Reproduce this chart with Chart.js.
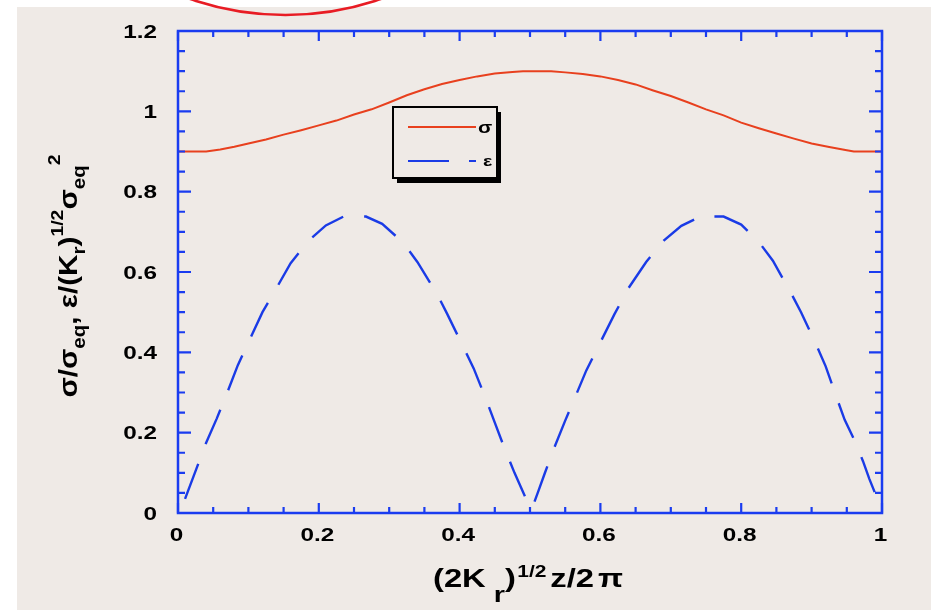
<!DOCTYPE html>
<html><head><meta charset="utf-8">
<script src="https://cdn.jsdelivr.net/npm/chart.js@4.4.1/dist/chart.umd.min.js"></script>
<style>html,body{margin:0;padding:0;background:#fff;}#wrap{width:933px;height:610px;position:relative;}</style>
</head><body><div id="wrap"><canvas id="c" width="933" height="610"></canvas></div>
<script>
// ---- data ----
const sigmaX = [0.000,0.040,0.060,0.080,0.100,0.125,0.150,0.175,0.200,0.225,0.250,0.275,0.300,0.325,0.350,0.375,0.400,0.425,0.450,0.475,0.490,0.530,0.550,0.575,0.600,0.625,0.650,0.675,0.700,0.725,0.750,0.775,0.800,0.825,0.850,0.875,0.900,0.925,0.950,0.960,1.000];
const sigmaY = [0.900,0.900,0.905,0.912,0.920,0.930,0.942,0.953,0.965,0.977,0.992,1.005,1.022,1.040,1.055,1.068,1.078,1.087,1.094,1.098,1.100,1.100,1.097,1.093,1.087,1.078,1.067,1.052,1.038,1.022,1.005,0.990,0.972,0.958,0.945,0.932,0.920,0.911,0.903,0.900,0.900];
const epsX = [0.010,0.025,0.040,0.055,0.070,0.085,0.100,0.120,0.135,0.160,0.185,0.210,0.235,0.267,0.290,0.320,0.340,0.368,0.382,0.404,0.420,0.436,0.450,0.464,0.478,0.494,0.503,0.512,0.521,0.535,0.550,0.565,0.580,0.600,0.620,0.640,0.665,0.690,0.715,0.742,0.775,0.800,0.825,0.845,0.870,0.885,0.905,0.920,0.935,0.947,0.962,0.973,0.982,0.990,1.000];
const epsY = [0.035,0.105,0.175,0.235,0.300,0.368,0.425,0.500,0.545,0.622,0.677,0.716,0.738,0.738,0.720,0.673,0.625,0.545,0.497,0.418,0.360,0.290,0.225,0.160,0.100,0.037,0.012,0.055,0.099,0.165,0.230,0.292,0.355,0.425,0.495,0.560,0.625,0.678,0.715,0.738,0.738,0.718,0.675,0.628,0.550,0.500,0.425,0.365,0.290,0.232,0.177,0.129,0.085,0.050,0.050];
const xTickLabels = ['0','0.2','0.4','0.6','0.8','1'];
const yTickLabels = ['0','0.2','0.4','0.6','0.8','1','1.2'];
const seriesNames = ['σ','ε'];

const BG = '#efeae6', AX = '#1a3cf0', RED = '#e8401e', BLUE = '#1a3be6';
const FONT = '"Liberation Sans", Arial, sans-serif';

function rich(ctx, parts, x, y, o) {
  let W = 0;
  const ws = parts.map(p => { ctx.font = 'bold ' + p.s + 'px ' + FONT; const w = ctx.measureText(p.t).width + (p.g || 0); W += w; return w; });
  const sx = o.width ? o.width / W : (o.sx || 1);
  ctx.save();
  ctx.translate(x, y);
  if (o.rot) ctx.rotate(o.rot);
  ctx.scale(sx, 1);
  let cx = o.align === 'center' ? -W / 2 : (o.align === 'right' ? -W : 0);
  ctx.fillStyle = o.color || '#000';
  ctx.textBaseline = 'alphabetic';
  ctx.textAlign = 'left';
  parts.forEach((p, i) => { ctx.font = 'bold ' + p.s + 'px ' + FONT; ctx.fillText(p.t, cx, p.dy || 0); cx += ws[i]; });
  ctx.restore();
}

const frame = {
  id: 'frame',
  beforeDraw(chart) {
    const ctx = chart.ctx;
    ctx.save();
    ctx.fillStyle = '#fff'; ctx.fillRect(0, 0, chart.width, chart.height);
    ctx.fillStyle = BG; ctx.fillRect(17, 7, 914, 603);
    ctx.restore();
  },
  afterDatasetsDraw(chart) {
    const ctx = chart.ctx, a = chart.chartArea, xs = chart.scales.x, ys = chart.scales.y;
    ctx.save();
    ctx.strokeStyle = AX; ctx.lineWidth = 2.5;
    ctx.strokeRect(a.left, a.top, a.right - a.left, a.bottom - a.top);
    ctx.lineWidth = 2.2;
    xs.ticks.forEach(t => {
      const r = Math.round(t.value * 100); const px = xs.getPixelForValue(t.value);
      const major = r % 20 === 0; const L = major ? 10 : 6;
      ctx.beginPath();
      ctx.moveTo(px, a.bottom); ctx.lineTo(px, a.bottom - L);
      ctx.moveTo(px, a.top); ctx.lineTo(px, a.top + L);
      ctx.stroke();
      if (major) rich(ctx, [{t: xTickLabels[r / 20], s: 18}], px - 1.5, a.bottom + 28, {align: 'center', sx: 1.35});
    });
    ys.ticks.forEach(t => {
      const r = Math.round(t.value * 100); const py = ys.getPixelForValue(t.value);
      const major = r % 20 === 0; const L = major ? 13 : 7;
      ctx.beginPath();
      ctx.moveTo(a.left, py); ctx.lineTo(a.left + L, py);
      ctx.moveTo(a.right, py); ctx.lineTo(a.right - L, py);
      ctx.stroke();
      if (major) rich(ctx, [{t: yTickLabels[r / 20], s: 18}], 157, py + 6.5, {align: 'right', sx: 1.35});
    });
    // legend
    const lx = 393, ly = 107, lw = 104, lh = 71;
    ctx.fillStyle = '#000'; ctx.fillRect(lx + 4, ly + 5, lw, lh);
    ctx.fillStyle = BG; ctx.fillRect(lx, ly, lw, lh);
    ctx.strokeStyle = '#000'; ctx.lineWidth = 2; ctx.strokeRect(lx, ly, lw, lh);
    ctx.lineWidth = 2;
    ctx.strokeStyle = RED; ctx.beginPath(); ctx.moveTo(408, 127); ctx.lineTo(476, 127); ctx.stroke();
    ctx.strokeStyle = BLUE; ctx.setLineDash([41, 20]); ctx.beginPath(); ctx.moveTo(408, 161); ctx.lineTo(476, 161); ctx.stroke();
    ctx.setLineDash([]);
    rich(ctx, [{t: seriesNames[0], s: 16}], 478, 133, {sx: 1.3});
    rich(ctx, [{t: seriesNames[1], s: 15}], 483, 166, {sx: 1.3});
    ctx.restore();
  },
  afterDraw(chart) {
    const ctx = chart.ctx;
    // x title
    rich(ctx, [
      {t: '(2K', s: 25}, {t: ' r', s: 22, dy: 15}, {t: ')', s: 25, g: 1},
      {t: '1/2', s: 16, dy: -10, g: 3}, {t: 'z/2', s: 25, g: 3}, {t: 'π', s: 25}
    ], 433, 587, {width: 190});
    // y title
    rich(ctx, [
      {t: 'σ/σ', s: 26}, {t: 'eq', s: 18, dy: 8}, {t: ', ε/(K', s: 26}, {t: 'r', s: 18, dy: 8},
      {t: ')', s: 26}, {t: '1/2', s: 17, dy: -14}, {t: 'σ', s: 26}, {t: 'eq', s: 18, dy: 8}, {t: '2', s: 17, dy: -17}
    ], 77, 276, {width: 243, rot: -Math.PI / 2, align: 'center'});
    // red ellipse annotation at top
    ctx.save();
    ctx.strokeStyle = '#e81c24'; ctx.lineWidth = 2.6;
    ctx.beginPath(); ctx.ellipse(285.5, -185, 243, 200, 0, 0, Math.PI * 2); ctx.stroke();
    ctx.restore();
  }
};

new Chart(document.getElementById('c'), {
  type: 'line',
  data: {
    datasets: [
      {label: seriesNames[0], data: sigmaX.map((x, i) => ({x, y: sigmaY[i]})), borderColor: RED, borderWidth: 2, pointRadius: 0, tension: 0, fill: false},
      {label: seriesNames[1], data: epsX.map((x, i) => ({x, y: epsY[i]})), borderColor: BLUE, borderWidth: 2.4, borderDash: [37.5, 21], borderDashOffset: 0, pointRadius: 0, tension: 0, fill: false}
    ]
  },
  options: {
    responsive: false, animation: false, devicePixelRatio: 1,
    layout: {padding: {left: 0, top: 31, right: 51, bottom: 0}},
    plugins: {legend: {display: false}, tooltip: {enabled: false}},
    scales: {
      x: {type: 'linear', min: 0, max: 1, ticks: {stepSize: 0.05, display: false, autoSkip: false}, grid: {display: false, drawTicks: false}, border: {display: false},
          afterFit(s) { s.height = 97; }},
      y: {type: 'linear', min: 0, max: 1.2, ticks: {stepSize: 0.05, display: false, autoSkip: false}, grid: {display: false, drawTicks: false}, border: {display: false},
          afterFit(s) { s.width = 178; }}
    }
  },
  plugins: [frame]
});
</script></body></html>
